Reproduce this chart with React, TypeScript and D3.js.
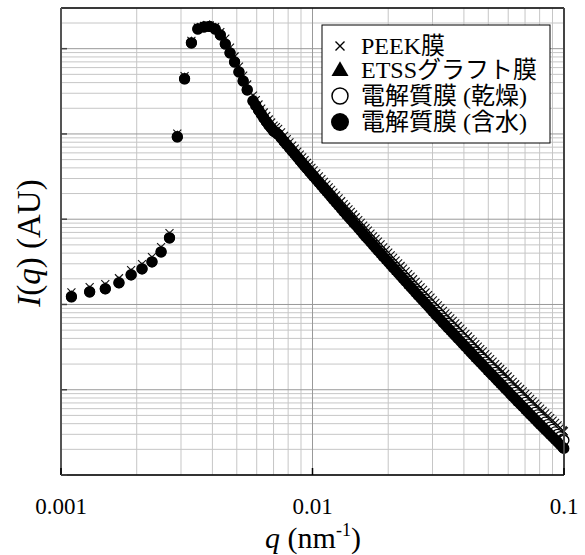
import React from 'react';
import * as d3 from 'd3';

// scattering vector q (nm^-1), shared by all four samples
const qValues = [
  0.0011, 0.0013, 0.0015, 0.0017, 0.0019, 0.0021, 0.0023, 0.0025, 0.0027, 0.0029, 0.0031, 0.0033,
  0.0035, 0.0037, 0.0039, 0.0041, 0.0043, 0.0045, 0.0047, 0.0049, 0.0051, 0.0053, 0.0055,
  0.0058, 0.00595, 0.0061, 0.00625, 0.0064, 0.00655, 0.0067, 0.00685, 0.0070, 0.00715,
  0.0073, 0.0075, 0.0077, 0.0079, 0.0081, 0.0083, 0.0085, 0.0087, 0.0089, 0.0091,
  0.0093, 0.0095, 0.0097, 0.0099, 0.0101, 0.01035, 0.0106, 0.01085, 0.0111, 0.01135,
  0.0116, 0.01185, 0.0121, 0.0124, 0.0127, 0.0130, 0.0133, 0.0136, 0.0139, 0.0142,
  0.0145, 0.01485, 0.0152, 0.01555, 0.0159, 0.01625, 0.0166, 0.0170, 0.0174, 0.0178,
  0.0182, 0.01865, 0.0191, 0.01955, 0.0200, 0.02045, 0.0209, 0.0214, 0.0219, 0.0224,
  0.0229, 0.02345, 0.0240, 0.02455, 0.0251, 0.0257, 0.0263, 0.0269, 0.0275, 0.02815,
  0.0288, 0.02945, 0.0301, 0.0308, 0.0315, 0.03225, 0.0330, 0.03375, 0.0345, 0.0353,
  0.0361, 0.03695, 0.0378, 0.0387, 0.0396, 0.04055, 0.0415, 0.04245, 0.0434, 0.0444,
  0.0454, 0.04645, 0.0475, 0.0486, 0.0497, 0.05085, 0.0520, 0.05325, 0.0545, 0.05575,
  0.0570, 0.05835, 0.0597, 0.0611, 0.0625, 0.06395, 0.0654, 0.06695, 0.0685, 0.0701,
  0.0717, 0.07335, 0.0750, 0.07675, 0.0785, 0.08035, 0.0822, 0.08415, 0.0861, 0.0881,
  0.0901, 0.0922, 0.0943, 0.0965, 0.0987, 0.0993, 0.0999,
];

// I(q), arbitrary units
const peekFilm = [
  139, 160, 173, 203, 253, 297, 359, 470, 686, 10100, 47600, 123600,
  176900, 185000, 187500, 178600, 156300, 131500, 103200, 80940, 61780, 48440, 38000,
  28230, 25000, 22140, 19870, 17840, 16230, 14770, 13620, 12550, 12010,
  11490, 10440, 9485, 8687, 7956, 7316, 6728, 6197, 5707, 5298,
  4919, 4587, 4277, 3997, 3736, 3446, 3178, 2948, 2734, 2542,
  2364, 2204, 2054, 1898, 1753, 1624, 1504, 1400, 1303, 1217,
  1136, 1054, 977.6, 907.8, 842.9, 785.9, 732.7, 679.4, 629.9, 586.6,
  546.3, 505.4, 467.5, 434.8, 404.4, 377.0, 351.5, 326.4, 303.1, 282.6,
  263.4, 244.6, 227.2, 211.9, 197.6, 183.6, 170.5, 159.1, 148.4, 138.2,
  128.7, 120.1, 112.0, 104.6, 97.6, 90.7, 84.3, 78.8, 73.6, 68.8,
  64.3, 60.0, 55.9, 52.1, 48.5, 45.2, 42.1, 39.3, 36.7, 34.3,
  32.1, 30.0, 28.1, 26.2, 24.5, 22.9, 21.4, 20.0, 18.6, 17.5,
  16.4, 15.3, 14.3, 13.3, 12.4, 11.6, 10.9, 10.2, 9.54, 8.93,
  8.35, 7.82, 7.32, 6.86, 6.42, 6.02, 5.64, 5.28, 4.94, 4.64,
  4.35, 4.08, 3.82, 3.58, 3.35, 3.30, 3.25,
];

const etssFilm = [
  126, 144, 157, 184, 229, 269, 324, 425, 620, 9480, 45400, 120100,
  173500, 183200, 185600, 173500, 147600, 119600, 93880, 73620, 56190, 44060, 34560,
  25680, 22740, 20140, 18080, 16230, 14760, 13430, 12380, 11420, 10920,
  10450, 9495, 8627, 7901, 7236, 6654, 6119, 5636, 5191, 4809,
  4455, 4144, 3854, 3595, 3353, 3086, 2841, 2629, 2432, 2256,
  2092, 1945, 1809, 1667, 1536, 1419, 1311, 1218, 1131, 1053,
  981, 907.8, 840, 778.2, 721, 670.7, 624, 577.2, 534, 495.6,
  460, 424.6, 392, 364.0, 338, 314.2, 292, 270.7, 251, 233.4,
  217, 200.9, 186, 173.0, 161, 149.1, 138, 128.7, 120, 111.2,
  103, 96.0, 89.5, 83.3, 77.6, 71.9, 66.7, 62.2, 58.0, 54.1,
  50.4, 46.9, 43.6, 40.5, 37.6, 35.0, 32.6, 30.3, 28.2, 26.3,
  24.5, 22.9, 21.4, 19.9, 18.5, 17.3, 16.1, 15.0, 14.0, 13.1,
  12.2, 11.4, 10.6, 9.88, 9.21, 8.61, 8.04, 7.49, 6.98, 6.51,
  6.08, 5.68, 5.31, 4.96, 4.63, 4.33, 4.05, 3.78, 3.53, 3.30,
  3.09, 2.89, 2.70, 2.52, 2.36, 2.32, 2.28,
];

const dryMembrane = [
  124, 141, 153, 180, 223, 262, 316, 414, 605, 9300, 44500, 117000,
  170500, 180100, 182400, 170600, 145200, 113800, 89300, 70000, 53450, 41900, 32900,
  24420, 21620, 19150, 17190, 15430, 14040, 12770, 11780, 10860, 10380,
  9930, 9024, 8200, 7511, 6880, 6325, 5815, 5349, 4920, 4565,
  4236, 3946, 3675, 3431, 3204, 2954, 2723, 2523, 2338, 2172,
  2017, 1879, 1750, 1615, 1490, 1379, 1277, 1188, 1105, 1030,
  961, 890.4, 825, 765.3, 710, 661.3, 616, 570.8, 529, 492.2,
  458, 423.2, 391, 363.5, 338, 314.7, 293, 271.7, 252, 234.9,
  219, 202.9, 188, 175.1, 163, 151.6, 141, 131.2, 122, 113.7,
  106, 98.8, 92.0, 85.8, 80.1, 74.4, 69.1, 64.5, 60.2, 56.2,
  52.5, 48.9, 45.6, 42.4, 39.4, 36.7, 34.2, 31.9, 29.7, 27.7,
  25.9, 24.2, 22.7, 21.1, 19.7, 18.4, 17.2, 16.0, 14.9, 14.0,
  13.1, 12.2, 11.4, 10.6, 9.94, 9.30, 8.71, 8.13, 7.59, 7.09,
  6.63, 6.21, 5.81, 5.43, 5.08, 4.76, 4.46, 4.17, 3.90, 3.65,
  3.42, 3.20, 3.00, 2.81, 2.63, 2.59, 2.55,
];

const wetMembrane = [
  122, 140, 152, 179, 222, 261, 315, 412, 602, 9210, 44100, 116600,
  170100, 179600, 182000, 170100, 144700, 113400, 88990, 69780, 53260, 41760, 32760,
  24340, 21560, 19090, 17130, 15380, 13990, 12730, 11740, 10820, 10350,
  9901, 8998, 8177, 7489, 6859, 6307, 5800, 5342, 4920, 4556,
  4219, 3922, 3646, 3399, 3169, 2914, 2680, 2478, 2292, 2125,
  1970, 1831, 1702, 1568, 1444, 1333, 1231, 1143, 1061, 987.8,
  919.6, 850.4, 786.5, 728.2, 674.3, 626.9, 582.9, 538.9, 498.3, 462.6,
  429.5, 396.1, 365.2, 338.6, 314.0, 291.9, 271.4, 251.3, 232.6, 216.3,
  201.1, 186.2, 172.4, 160.3, 149.0, 138.0, 127.8, 118.9, 110.7, 102.8,
  95.4, 88.7, 82.5, 76.8, 71.5, 66.3, 61.4, 57.2, 53.3, 49.7,
  46.3, 43.0, 40.0, 37.1, 34.5, 32.1, 29.8, 27.7, 25.8, 24.0,
  22.4, 20.9, 19.5, 18.2, 16.9, 15.8, 14.7, 13.7, 12.7, 11.9,
  11.1, 10.3, 9.61, 8.96, 8.35, 7.80, 7.28, 6.78, 6.32, 5.90,
  5.50, 5.14, 4.80, 4.48, 4.18, 3.91, 3.65, 3.41, 3.18, 2.97,
  2.78, 2.60, 2.43, 2.27, 2.12, 2.08, 2.05,
];

const xTickValues = [0.001, 0.01, 0.1];
const xTickLabels = ['0.001', '0.01', '0.1'];
const legendLabels = ['PEEK膜', 'ETSSグラフト膜', '電解質膜 (乾燥)', '電解質膜 (含水)'];

const width = 585;
const height = 555;
const plot = { left: 61, right: 564, top: 8, bottom: 475 };
const serif = 'Liberation Serif, Times New Roman, serif';
// latin in Times-like serif, kana/kanji fall through to a gothic face
const mixed = 'Liberation Serif, Noto Sans CJK JP, sans-serif';

const isMajor = (v: number) => Math.abs(Math.log10(v) - Math.round(Math.log10(v))) < 1e-9;

const crossPath = (s: number) => `M${-s},${-s}L${s},${s}M${-s},${s}L${s},${-s}`;
const triPath = (s: number) => {
  const h = (s * Math.sqrt(3)) / 2;
  return `M0,${(-2 * h) / 3}L${s / 2},${h / 3}L${-s / 2},${h / 3}Z`;
};

export default function App() {
  const x = d3.scaleLog().domain([0.001, 0.1]).range([plot.left, plot.right]);
  const y = d3.scaleLog().domain([1, 3e5]).range([plot.bottom, plot.top]);

  const xGrid = x.ticks();
  const yGrid = y.ticks();

  const pts = (vals: number[]) =>
    qValues.slice(0, vals.length).map((q, i) => [x(q), y(vals[i])]);

  const legendRows = [46, 70, 96, 122];

  return (
    <svg width={width} height={height} style={{ position: 'absolute', left: 0, top: 0, background: '#fff' }}>
      {/* grid */}
      <g>
        {xGrid.filter(v => !isMajor(v)).map((v, i) => (
          <line key={'xm' + i} x1={x(v)} x2={x(v)} y1={plot.top} y2={plot.bottom} stroke="#c6c6c6" strokeWidth={1} />
        ))}
        {yGrid.filter(v => !isMajor(v)).map((v, i) => (
          <line key={'ym' + i} x1={plot.left} x2={plot.right} y1={y(v)} y2={y(v)} stroke="#c6c6c6" strokeWidth={1} />
        ))}
        {xGrid.filter(isMajor).map((v, i) => (
          <line key={'xM' + i} x1={x(v)} x2={x(v)} y1={plot.top} y2={plot.bottom} stroke="#999" strokeWidth={1} />
        ))}
        {yGrid.filter(isMajor).map((v, i) => (
          <line key={'yM' + i} x1={plot.left} x2={plot.right} y1={y(v)} y2={y(v)} stroke="#999" strokeWidth={1} />
        ))}
      </g>

      {/* data: PEEK (x), ETSS (triangle), dry (open), wet (filled) */}
      <g>
        {pts(peekFilm).map(([px, py], i) => (
          <path key={'p' + i} d={crossPath(4)} transform={`translate(${px},${py})`} stroke="#111" strokeWidth={1.1} fill="none" />
        ))}
        {pts(etssFilm).map(([px, py], i) => (
          <path key={'e' + i} d={triPath(10)} transform={`translate(${px},${py})`} fill="#000" />
        ))}
        {pts(dryMembrane).map(([px, py], i) => (
          <circle key={'d' + i} cx={px} cy={py} r={5} fill="#fff" stroke="#000" strokeWidth={1.3} />
        ))}
        {pts(wetMembrane).map(([px, py], i) => (
          <circle key={'w' + i} cx={px} cy={py} r={5.5} fill="#000" />
        ))}
      </g>

      {/* frame */}
      <line x1={plot.left} x2={plot.right} y1={plot.top} y2={plot.top} stroke="#000" strokeWidth={1.5} />
      <line x1={plot.left} x2={plot.right} y1={plot.bottom} y2={plot.bottom} stroke="#000" strokeWidth={1.5} />
      <line x1={plot.left} x2={plot.left} y1={plot.top} y2={plot.bottom} stroke="#555" strokeWidth={2} />
      <line x1={plot.right} x2={plot.right} y1={plot.top} y2={plot.bottom} stroke="#444" strokeWidth={2} />

      {/* major ticks (inside) */}
      {xTickValues.map((v, i) => (
        <line key={'xt' + i} x1={x(v)} x2={x(v)} y1={plot.bottom} y2={plot.bottom - 7} stroke="#000" strokeWidth={1.5} />
      ))}
      {yGrid.filter(isMajor).map((v, i) => (
        <line key={'yt' + i} x1={plot.left} x2={plot.left + 6} y1={y(v)} y2={y(v)} stroke="#444" strokeWidth={1.5} />
      ))}

      {/* x tick labels */}
      {xTickValues.map((v, i) => (
        <text key={'xl' + i} x={x(v)} y={514} textAnchor="middle" fontFamily={serif} fontSize={23} fill="#000">
          {xTickLabels[i]}
        </text>
      ))}

      {/* axis titles */}
      <text x={313} y={548} textAnchor="middle" fontFamily={serif} fontSize={30} fill="#000">
        <tspan fontStyle="italic">q</tspan>
        <tspan> (nm</tspan>
        <tspan fontSize={18} dy={-12}>-1</tspan>
        <tspan dy={12}>)</tspan>
      </text>
      <text transform="translate(40,243) rotate(-90)" textAnchor="middle" fontFamily={serif} fontSize={33} fill="#000">
        <tspan fontStyle="italic">I</tspan>
        <tspan>(</tspan>
        <tspan fontStyle="italic">q</tspan>
        <tspan>) (AU)</tspan>
      </text>

      {/* legend */}
      <rect x={322} y={25} width={228} height={118} fill="#fff" stroke="#000" strokeWidth={1} />
      <path d={crossPath(4.5)} transform={`translate(340,${legendRows[0]})`} stroke="#000" strokeWidth={1.4} fill="none" />
      <path d={triPath(17)} transform={`translate(340,${legendRows[1] + 1})`} fill="#000" />
      <circle cx={340} cy={legendRows[2]} r={8} fill="#fff" stroke="#000" strokeWidth={1.5} />
      <circle cx={340} cy={legendRows[3]} r={9} fill="#000" />
      {legendLabels.map((t, i) => (
        <text key={'lg' + i} x={361} y={legendRows[i] + 8} fontFamily={mixed} fontSize={24} fill="#000">
          {t}
        </text>
      ))}
    </svg>
  );
}
